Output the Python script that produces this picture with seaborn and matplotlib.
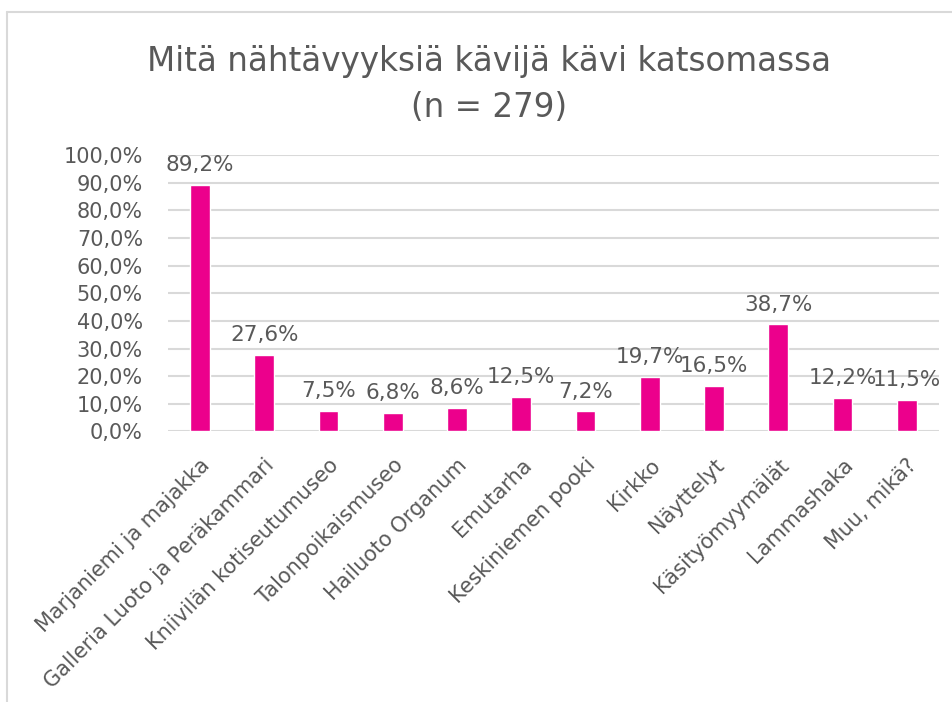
import numpy as np
import pandas as pd
import seaborn as sns
import matplotlib.pyplot as plt
from matplotlib.lines import Line2D
from matplotlib.ticker import FuncFormatter

# kohteet ja osuudet (%)
kohteet = ['Marjaniemi ja majakka', 'Galleria Luoto ja Peräkammari',
           'Kniivilän kotiseutumuseo', 'Talonpoikaismuseo', 'Hailuoto Organum',
           'Emutarha', 'Keskiniemen pooki', 'Kirkko', 'Näyttelyt',
           'Käsityömyymälät', 'Lammashaka', 'Muu, mikä?']
osuudet = [89.2, 27.6, 7.5, 6.8, 8.6, 12.5, 7.2, 19.7, 16.5, 38.7, 12.2, 11.5]
otsikko = 'Mitä nähtävyyksiä kävijä kävi katsomassa'
otsikko2 = '(n = 279)'

harmaa = '#595959'
pinkki = '#EC008C'

sns.set_style('white')
plt.rcParams['font.family'] = ['DejaVu Sans']

df = pd.DataFrame({'kohde': kohteet, 'osuus': np.array(osuudet) / 100})

fig = plt.figure(figsize=(9.53, 7.02), dpi=100)
ax = fig.add_axes([0.1762, 0.3856, 0.809, 0.3932])
sns.barplot(data=df, x='kohde', y='osuus', color=pinkki, width=0.31,
            saturation=1, ax=ax, zorder=3)

ax.set_ylim(0, 1)
ax.set_yticks(np.arange(0, 1.01, 0.1))
ax.yaxis.set_major_formatter(FuncFormatter(lambda v, p: f'{v*100:.1f}%'.replace('.', ',')))
ax.grid(axis='y', color='#D9D9D9', linewidth=1.5, zorder=0)
ax.set_axisbelow(True)
for s in ax.spines.values():
    s.set_visible(False)
ax.set_xlabel('')
ax.set_ylabel('')
ax.tick_params(axis='y', length=0, pad=18, labelsize=15, labelcolor=harmaa)
ax.tick_params(axis='x', length=0, pad=17, labelsize=15, labelcolor=harmaa)
plt.setp(ax.get_xticklabels(), rotation=45, ha='right', rotation_mode='anchor')

for i, v in enumerate(osuudet):
    ax.annotate(f'{v:.1f}%'.replace('.', ','), (i, v / 100), xytext=(0, 7),
                textcoords='offset points', ha='center', va='bottom',
                fontsize=15.5, color=harmaa)

fig.text(0.513, 1 - 71 / 702, otsikko, ha='center', va='baseline',
         fontsize=23.5, color=harmaa)
fig.text(0.513, 1 - 117 / 702, otsikko2, ha='center', va='baseline',
         fontsize=23.5, color=harmaa)

# kaavion reunaviivat
fig.add_artist(Line2D([7 / 953, 1], [1 - 12 / 702] * 2, color='#D9D9D9', lw=1.5))
fig.add_artist(Line2D([7 / 953] * 2, [0, 1 - 12 / 702], color='#D9D9D9', lw=1.5))

fig.savefig('out.png', dpi=100, facecolor='white')
